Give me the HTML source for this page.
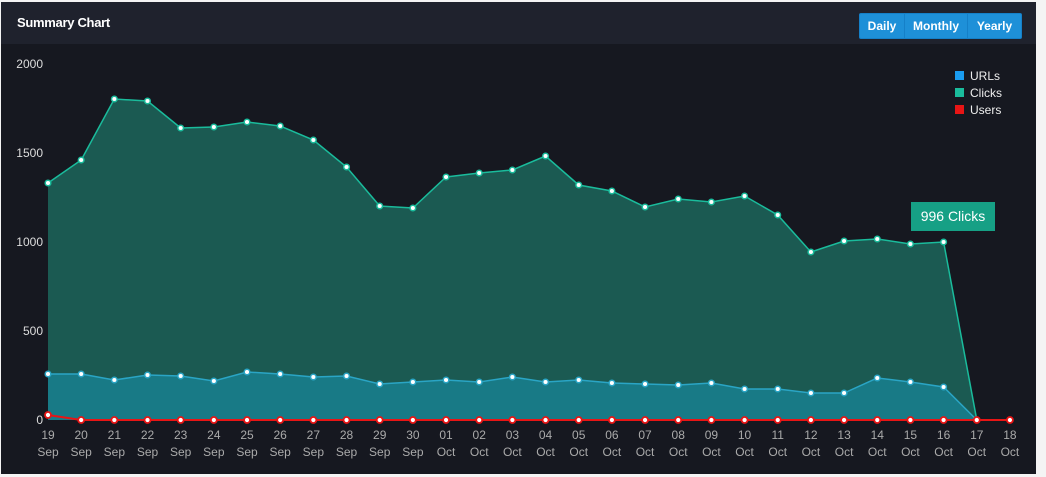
<!DOCTYPE html><html><head><style>
body{margin:0;background:#f4f4f4;width:1046px;height:477px;overflow:hidden;font-family:"Liberation Sans",Arial,sans-serif}
.f{position:absolute;left:1px;top:2px;width:1035px;height:472px;background:#161820}
.h{position:absolute;left:0;top:0;width:1035px;height:42px;background:#1f222d}
.t{position:absolute;left:16px;top:13px;color:#fff;font-weight:bold;font-size:13px;letter-spacing:-0.3px}
.b{position:absolute;top:11px;height:24px;background:#1e90d8;color:#fff;font-weight:bold;font-size:12px;line-height:24px;text-align:center;border:1px solid #1580c8}
</style></head><body><div class="f"><div class="h"><div class="t">Summary Chart</div>
<div class="b" style="left:858px;width:44px;border-radius:2px 0 0 2px">Daily</div>
<div class="b" style="left:903px;width:62px">Monthly</div>
<div class="b" style="left:966px;width:53px;border-radius:0 2px 2px 0">Yearly</div></div></div>
<svg id="s" width="1046" height="477" style="position:absolute;left:0;top:0" font-family="Liberation Sans,Arial,sans-serif"></svg>
<script>
var s=document.getElementById('s'),h='';
var C=[183,160,99,101,128,127,122,126,140,167,206,208,177,173,170,156,185,191,207,199,202,196,215,252,241,239,244,242,420,420];
var U=[374,374,380,375,376,381,372,374,377,376,384,382,380,382,377,382,380,383,384,385,383,389,389,393,393,378,382,387,420,420];
var R=[415];for(var i=1;i<30;i++)R.push(420);
function X(i){return 48+i*33.17}
function pts(a,n){return a.slice(0,n).map(function(y,i){return X(i).toFixed(1)+','+y}).join(' ')}
h+='<polygon points="'+pts(C,29)+' '+X(28)+',420 48,420" fill="#1b5a52"/>';
h+='<polygon points="'+pts(U,29)+' '+X(28)+',420 48,420" fill="#187a86"/>';
h+='<polyline points="'+pts(C,29)+'" fill="none" stroke="#1abc9c" stroke-width="1.5"/>';
h+='<polyline points="'+pts(U,29)+'" fill="none" stroke="#2aa5c5" stroke-width="1.5"/>';
h+='<polyline points="'+pts(R,30)+'" fill="none" stroke="#e81515" stroke-width="2"/>';
for(i=0;i<29;i++){h+='<circle cx="'+X(i)+'" cy="'+C[i]+'" r="2.8" fill="#fff" stroke="#1abc9c" stroke-width="1.5"/>';h+='<circle cx="'+X(i)+'" cy="'+U[i]+'" r="2.8" fill="#fff" stroke="#2aa5c5" stroke-width="1.5"/>'}
for(i=0;i<30;i++)h+='<circle cx="'+X(i)+'" cy="'+R[i]+'" r="3" fill="#fff" stroke="#e81515" stroke-width="1.8"/>';
[2000,1500,1000,500,0].forEach(function(v,k){h+='<text x="43" y="'+(68+k*89)+'" fill="#ddd" font-size="12" text-anchor="end">'+v+'</text>'});
var d=['19','20','21','22','23','24','25','26','27','28','29','30','01','02','03','04','05','06','07','08','09','10','11','12','13','14','15','16','17','18'];
for(i=0;i<30;i++){h+='<text x="'+X(i)+'" y="439" fill="#aaa" font-size="12" text-anchor="middle">'+d[i]+'</text><text x="'+X(i)+'" y="456" fill="#aaa" font-size="12" text-anchor="middle">'+(i<12?'Sep':'Oct')+'</text>'}
h+='<rect x="955" y="71" width="9" height="9" fill="#1a9cf0"/><text x="970" y="80" fill="#eee" font-size="12">URLs</text>';
h+='<rect x="955" y="88" width="9" height="9" fill="#1abc9c"/><text x="970" y="97" fill="#eee" font-size="12">Clicks</text>';
h+='<rect x="955" y="105" width="9" height="9" fill="#e81515"/><text x="970" y="114" fill="#eee" font-size="12">Users</text>';
h+='<rect x="911" y="202" width="84" height="29" fill="#16a085"/><text x="953" y="221" fill="#fff" font-size="14" text-anchor="middle">996 Clicks</text>';
s.innerHTML=h;
</script></body></html>
